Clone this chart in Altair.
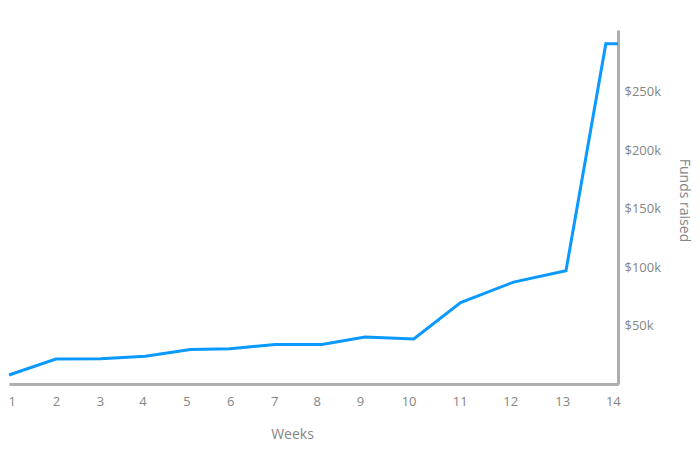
import altair as alt
import pandas as pd

# Data
week_pos = [1.00, 2.00, 2.96, 3.91, 4.87, 5.72, 6.68, 7.68, 8.60, 9.64, 10.64, 11.77, 12.89, 13.74, 14.00]
funds = [7700, 21400, 21600, 23800, 29500, 30100, 33800, 33800, 40200, 38500, 69700, 87200, 97000, 291200, 291200]

tick_pos = [1.06, 2.00, 2.94, 3.85, 4.79, 5.72, 6.66, 7.57, 8.49, 9.53, 10.62, 11.70, 12.81, 13.89]
tick_labels = ["1", "2", "3", "4", "5", "6", "7", "8", "9", "10", "11", "12", "13", "14"]
y_ticks = [50000, 100000, 150000, 200000, 250000]

df = pd.DataFrame({"week": week_pos, "funds": funds})

label_expr = "[" + ",".join("'%s'" % s for s in tick_labels) + "][indexof([" + ",".join(str(v) for v in tick_pos) + "], datum.value)]"

FONT = "Open Sans"
GRAY = "#858585"
AXIS = "#b0adad"

chart = alt.Chart(df).mark_line(color="#0a99ff", strokeWidth=3).encode(
    x=alt.X(
        "week:Q",
        scale=alt.Scale(domain=[1, 14], nice=False, zero=False),
        axis=alt.Axis(
            title="Weeks",
            values=tick_pos,
            labelExpr=label_expr,
            grid=False,
            ticks=False,
            domainColor=AXIS,
            domainWidth=3,
            labelColor=GRAY,
            labelFont=FONT,
            labelFontSize=13,
            labelPadding=11,
            labelOverlap=False,
            labelFlush=False,
            titleColor=GRAY,
            titleFont=FONT,
            titleFontSize=14,
            titleFontWeight="normal",
            titlePadding=19,
            titleX=283,
        ),
    ),
    y=alt.Y(
        "funds:Q",
        scale=alt.Scale(domain=[0, 303000], nice=False),
        axis=alt.Axis(
            orient="right",
            title="Funds raised",
            values=y_ticks,
            labelExpr="'$' + datum.value/1000 + 'k'",
            grid=False,
            ticks=False,
            domainColor=AXIS,
            domainWidth=3,
            labelColor=GRAY,
            labelFont=FONT,
            labelFontSize=13,
            labelPadding=6,
            titleColor=GRAY,
            titleFont=FONT,
            titleFontSize=14,
            titleFontWeight="normal",
            titleAngle=90,
            titlePadding=16,
            titleY=170,
        ),
    ),
).properties(
    width=609,
    height=354,
    padding={"left": -5, "top": 22, "right": 1, "bottom": 5},
).configure_view(stroke=None)

chart.save("out.html", embed_options={"renderer": "svg", "actions": False})
